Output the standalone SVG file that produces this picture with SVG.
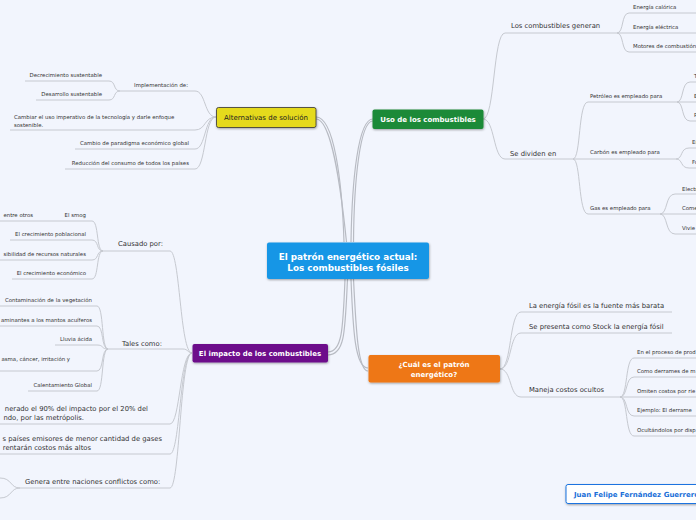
<svg xmlns="http://www.w3.org/2000/svg" width="696" height="520" viewBox="0 0 696 520">
<defs>
<filter id="sh" x="-10%" y="-20%" width="120%" height="150%"><feDropShadow dx="0.5" dy="1" stdDeviation="0.8" flood-color="#000" flood-opacity="0.35"/></filter>
<style>
.s{font-family:"DejaVu Sans",Verdana,sans-serif;font-size:5.4px;fill:#333}
.l{font-family:"DejaVu Sans",Verdana,sans-serif;font-size:6.8px;fill:#333}
.e{text-anchor:end}
.nb{font-family:"DejaVu Sans",Verdana,sans-serif;font-weight:bold;fill:#fff;text-anchor:middle}
.c path{fill:none;stroke:#c6c9d0;stroke-width:1}
.c .m{stroke:#b8bbc3;stroke-width:1.2}
</style>
</defs>
<rect width="696" height="520" fill="#f2f5fd"/>
<g class="c" id="connectors">
<path class="m" d="M316,117 C334,117 342,180 344,242"/>
<path class="m" d="M316,119 C331,119 340,180 346.5,242"/>
<path class="m" d="M373,119 C358,119 352,180 351,242"/>
<path class="m" d="M373,121 C360,121 354,180 353.5,242"/>
<path class="m" d="M345,279 C343,330 342,352 328,352"/>
<path class="m" d="M347.5,279 C345,332 345,355 328,355"/>
<path class="m" d="M351,279 C353,330 355,368 368,368"/>
<path class="m" d="M353.5,279 C356,330 358,371 368,371"/>
<path d="M483,119 C495,119 493,33 505,33 L617,33"/>
<path d="M483,119 C495,119 493,159 505,159 L573,159"/>
<path d="M617,33 C624,33 621,13 629,13 L696,13"/>
<path d="M617,33 L696,33"/>
<path d="M617,33 C624,33 621,52 629,52 L696,52"/>
<path d="M573,159 C581,159 578,102 588,102 L677,102"/>
<path d="M573,159 L676,159"/>
<path d="M573,159 C581,159 578,214 588,214 L660,214"/>
<path d="M677,102 C684,102 681,82 690,82 L696,82"/>
<path d="M677,102 L696,102"/>
<path d="M677,102 C684,102 681,121 690,121 L696,121"/>
<path d="M676,159 C683,159 680,148 689,148 L696,148"/>
<path d="M676,159 C683,159 680,168 689,168 L696,168"/>
<path d="M660,214 C668,214 665,194 675,194 L696,194"/>
<path d="M660,214 L696,214"/>
<path d="M660,214 C668,214 665,234 675,234 L696,234"/>
<path d="M500,369 C512,369 509,312 521,312 L672,312"/>
<path d="M500,369 C512,369 509,333 521,333 L672,333"/>
<path d="M500,369 C512,369 509,397 521,397 L620,397"/>
<path d="M620,397 C628,397 625,358 634,358 L696,358"/>
<path d="M620,397 C628,397 625,377 634,377 L696,377"/>
<path d="M620,397 L696,397"/>
<path d="M620,397 C628,397 625,416 634,416 L696,416"/>
<path d="M620,397 C628,397 625,436 634,436 L696,436"/>
<path d="M216,117 C204,117 206,91 195,91 L120,91"/>
<path d="M216,117 C204,117 206,130 195,130 L10,130"/>
<path d="M216,117 C204,117 206,149 195,149 L75,149"/>
<path d="M216,117 C204,117 206,169 195,169 L65,169"/>
<path d="M120,91 C113,91 116,81 109,81 L25,81"/>
<path d="M120,91 C113,91 116,100 109,100 L36,100"/>
<path d="M192,353 C180,353 180,251 170,251 L103,251"/>
<path d="M192,353 C188,353 188,349 183,349 L108,349"/>
<path d="M192,353 C180,353 180,424 170,424 L0,424"/>
<path d="M192,353 C180,353 180,454 170,454 L0,454"/>
<path d="M192,353 C180,353 180,488 170,488 L20,488"/>
<path d="M20,488 C10,488 12,478 0,478"/>
<path d="M20,488 C10,488 12,498 0,498"/>
<path d="M103,251 C96,251 99,221 92,221 L0,221"/>
<path d="M103,251 C96,251 99,240 92,240 L10,240"/>
<path d="M103,251 C96,251 99,260 92,260 L0,260"/>
<path d="M103,251 C96,251 99,279 92,279 L12,279"/>
<path d="M108,349 C101,349 104,306 97,306 L0,306"/>
<path d="M108,349 C101,349 104,326 97,326 L0,326"/>
<path d="M108,349 C101,349 104,345 97,345 L55,345"/>
<path d="M108,349 C101,349 104,371 97,371 L0,371"/>
<path d="M108,349 C101,349 104,391 97,391 L28,391"/>
</g>
<g id="center">
<rect x="267" y="242.5" width="162" height="36.5" rx="2" fill="#1996e6" filter="url(#sh)"/>
<text class="nb" x="348" y="259.5" font-size="8.8">El patrón energético actual:</text>
<text class="nb" x="348" y="270.5" font-size="8.8">Los combustibles fósiles</text>
</g>
<g id="uso">
<rect x="372.5" y="109.5" width="111" height="19.5" rx="2" fill="#1f8a37" filter="url(#sh)"/>
<text class="nb" x="428" y="121.5" font-size="7">Uso de los combustibles</text>
</g>
<g id="alternativas">
<rect x="216.5" y="107.5" width="99.5" height="20" rx="2" fill="#e5da1b" stroke="#333" stroke-width="0.8" filter="url(#sh)"/>
<text x="266" y="120" font-size="7" text-anchor="middle" font-family="DejaVu Sans,Verdana,sans-serif" fill="#222">Alternativas de solución</text>
</g>
<g id="impacto">
<rect x="192.5" y="344" width="135.5" height="18.5" rx="2" fill="#6d0f8b" filter="url(#sh)"/>
<text class="nb" x="260" y="355.8" font-size="7">El impacto de los combustibles</text>
</g>
<g id="cual">
<rect x="368.5" y="355" width="131.5" height="27.5" rx="2" fill="#ee7712" filter="url(#sh)"/>
<text class="nb" x="434" y="367" font-size="7">¿Cuál es el patrón</text>
<text class="nb" x="434" y="376.5" font-size="7">energético?</text>
</g>
<g id="autor">
<rect x="566" y="484.5" width="140" height="19" rx="2" fill="#fff" stroke="#1a73e0" stroke-width="1" filter="url(#sh)"/>
<text x="574" y="496.5" font-size="7" font-weight="bold" font-family="DejaVu Sans,Verdana,sans-serif" fill="#1a6fd8">Juan Felipe Fernández Guerrero</text>
</g>
<g id="uso-hijos">
<text class="l" x="511" y="28">Los combustibles generan</text>
<text class="s" x="633" y="9">Energía calórica</text>
<text class="s" x="633" y="28.5">Energía eléctrica</text>
<text class="s" x="633" y="48">Motores de combustión</text>
<text class="l" x="510" y="155.5">Se dividen en</text>
<text class="s" x="590" y="98">Petróleo es empleado para</text>
<text class="s" x="694" y="78">T</text>
<text class="s" x="694" y="98">E</text>
<text class="s" x="694" y="117">P</text>
<text class="s" x="590" y="154">Carbón es empleado para</text>
<text class="s" x="692" y="143.5">En</text>
<text class="s" x="692" y="163.5">Fu</text>
<text class="s" x="590" y="210">Gas es empleado para</text>
<text class="s" x="682" y="190.5">Electr</text>
<text class="s" x="682" y="210">Come</text>
<text class="s" x="682" y="230">Vivie</text>
</g>
<g id="cual-hijos">
<text class="l" x="529" y="308">La energía fósil es la fuente más barata</text>
<text class="l" x="529" y="328.5">Se presenta como Stock la energía fósil</text>
<text class="l" x="529" y="392">Maneja costos ocultos</text>
<text class="s" x="637" y="353.5">En el proceso de prod</text>
<text class="s" x="637" y="373">Como derrames de m</text>
<text class="s" x="637" y="392.5">Omiten costos por rie</text>
<text class="s" x="637" y="411.5">Ejemplo: El derrame</text>
<text class="s" x="637" y="431.5">Ocultándolos por disp</text>
</g>
<g id="alternativas-hijos">
<text class="s e" x="188" y="86.5">Implementación de:</text>
<text class="s e" x="102" y="77">Decrecimiento sustentable</text>
<text class="s e" x="102" y="96">Desarrollo sustentable</text>
<text class="s" x="14" y="119">Cambiar el uso imperativo de la tecnología y darle enfoque</text>
<text class="s" x="14" y="126.5">sostenible.</text>
<text class="s e" x="189" y="145">Cambio de paradigma económico global</text>
<text class="s e" x="189" y="165">Reducción del consumo de todos los países</text>
</g>
<g id="impacto-hijos">
<text class="l" x="118" y="245.5">Causado por:</text>
<text class="s e" x="86" y="217">El smog</text>
<text class="s e" x="33" y="217">entre otros</text>
<text class="s e" x="86" y="236">El crecimiento poblacional</text>
<text class="s e" x="86" y="256">sibilidad de recursos naturales</text>
<text class="s e" x="86" y="275">El crecimiento económico</text>
<text class="l" x="122" y="345.5">Tales como:</text>
<text class="s e" x="92" y="302">Contaminación de la vegetación</text>
<text class="s e" x="92" y="322">aminantes a los mantos acuíferos</text>
<text class="s e" x="92" y="341">Lluvia ácida</text>
<text class="s e" x="70" y="361">asma, cáncer, irritación y</text>
<text class="s e" x="92" y="387">Calentamiento Global</text>
<text class="l e" x="148" y="411">nerado el 90% del impacto por el 20% del</text>
<text class="l e" x="84" y="420">ndo, por las metrópolis.</text>
<text class="l e" x="162" y="441">s países emisores de menor cantidad de gases</text>
<text class="l e" x="91" y="450">rentarán costos más altos</text>
<text class="l" x="25" y="484">Genera entre naciones conflictos como:</text>
</g>
</svg>
